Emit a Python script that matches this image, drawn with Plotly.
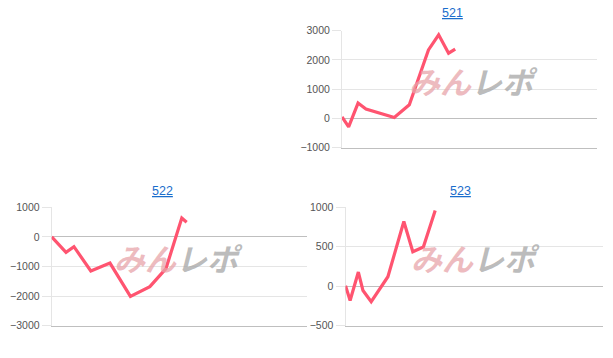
import plotly.graph_objects as go

W, H = 613, 358

titles = ["521", "522", "523"]

x_521 = [0, 2.6, 6.3, 9.4, 20.5, 26.4, 33.9, 37.9, 41.8, 44.4]
y_521 = [50, -290, 525, 320, 35, 470, 2345, 2860, 2230, 2370]

x_522 = [0, 5.6, 8.7, 15.3, 22.8, 30.8, 38.4, 44.7, 50.9, 52.8]
y_522 = [0, -520, -330, -1150, -885, -2010, -1680, -1070, 635, 495]

x_523 = [0, 1.8, 5.0, 6.8, 10.0, 16.5, 22.7, 26.2, 30.3, 34.9]
y_523 = [5, -180, 180, -55, -195, 120, 820, 437, 497, 960]

yticks_521 = [-1000, 0, 1000, 2000, 3000]
yticks_522 = [-3000, -2000, -1000, 0, 1000]
yticks_523 = [-500, 0, 500, 1000]

LINE = "rgb(255,84,112)"
GRID = "rgba(0,0,0,0.1)"
ZERO = "rgba(0,0,0,0.25)"
TICKFONT = dict(family="Liberation Sans, Arial, sans-serif", size=10.5, color="#555555")

def px_x(p):
    return p / W

def px_y(p):
    return 1 - p / H

fig = go.Figure()

panels = [
    (x_521, y_521, yticks_521, [-1000, 3000], (342, 597), (30.7, 147.7), "", ""),
    (x_522, y_522, yticks_522, [-3000, 1000], (51.7, 307.3), (207.3, 325.7), "2", "2"),
    (x_523, y_523, yticks_523, [-500, 1000], (345.5, 602.5), (207.3, 325.7), "3", "3"),
]

for xs, ys, ticks, yr, (xl, xr), (yt, yb), xa, ya in panels:
    fig.add_trace(go.Scatter(
        x=xs, y=ys, mode="lines",
        line=dict(color=LINE, width=3.2, shape="linear"),
        xaxis="x" + xa, yaxis="y" + ya, showlegend=False, hoverinfo="skip",
    ))
    fig.layout["xaxis" + xa] = dict(
        domain=[px_x(xl), px_x(xr)], range=[0, 100], showgrid=False,
        showticklabels=False, zeroline=False, showline=True, linecolor=ZERO,
        linewidth=1, ticks="", anchor="y" + ya, fixedrange=True,
    )
    fig.layout["yaxis" + ya] = dict(
        domain=[px_y(yb), px_y(yt)], range=yr, tickvals=ticks,
        tickformat="d", showgrid=True, gridcolor=GRID, gridwidth=1,
        zeroline=True, zerolinecolor=ZERO, zerolinewidth=1,
        showline=True, linecolor=GRID, linewidth=1,
        ticks="outside", ticklen=9, tickcolor=GRID, tickwidth=1,
        tickfont=TICKFONT, anchor="x" + xa, fixedrange=True,
    )

title_pos = [(452.5, 13), (163, 191), (460, 191)]
for t, (tx, ty) in zip(titles, title_pos):
    fig.add_annotation(
        x=px_x(tx), y=px_y(ty), xref="paper", yref="paper", text=t,
        showarrow=False, xanchor="center", yanchor="middle",
        font=dict(family="Liberation Sans, Arial, sans-serif", size=12.5,
                  color="#1a6dcc", lineposition="under"),
    )

wm_pos = [(473, 80), (178.5, 257), (475.5, 257)]
wm_text = ('<b><i><span style="color:rgba(232,165,170,0.75)">みん</span>'
           '<span style="color:rgba(170,170,170,0.8)">レポ</span></i></b>')
for wx, wy in wm_pos:
    fig.add_annotation(
        x=px_x(wx), y=px_y(wy), xref="paper", yref="paper", text=wm_text,
        showarrow=False, xanchor="center", yanchor="middle",
        font=dict(family="Noto Sans CJK JP", size=31),
    )

fig.update_layout(
    template="none",
    width=W, height=H, margin=dict(l=0, r=0, t=0, b=0),
    paper_bgcolor="white", plot_bgcolor="white",
    font=dict(family="Liberation Sans, Arial, sans-serif", color="#555555"),
)

fig.write_html("out.html", config={"displayModeBar": False})
